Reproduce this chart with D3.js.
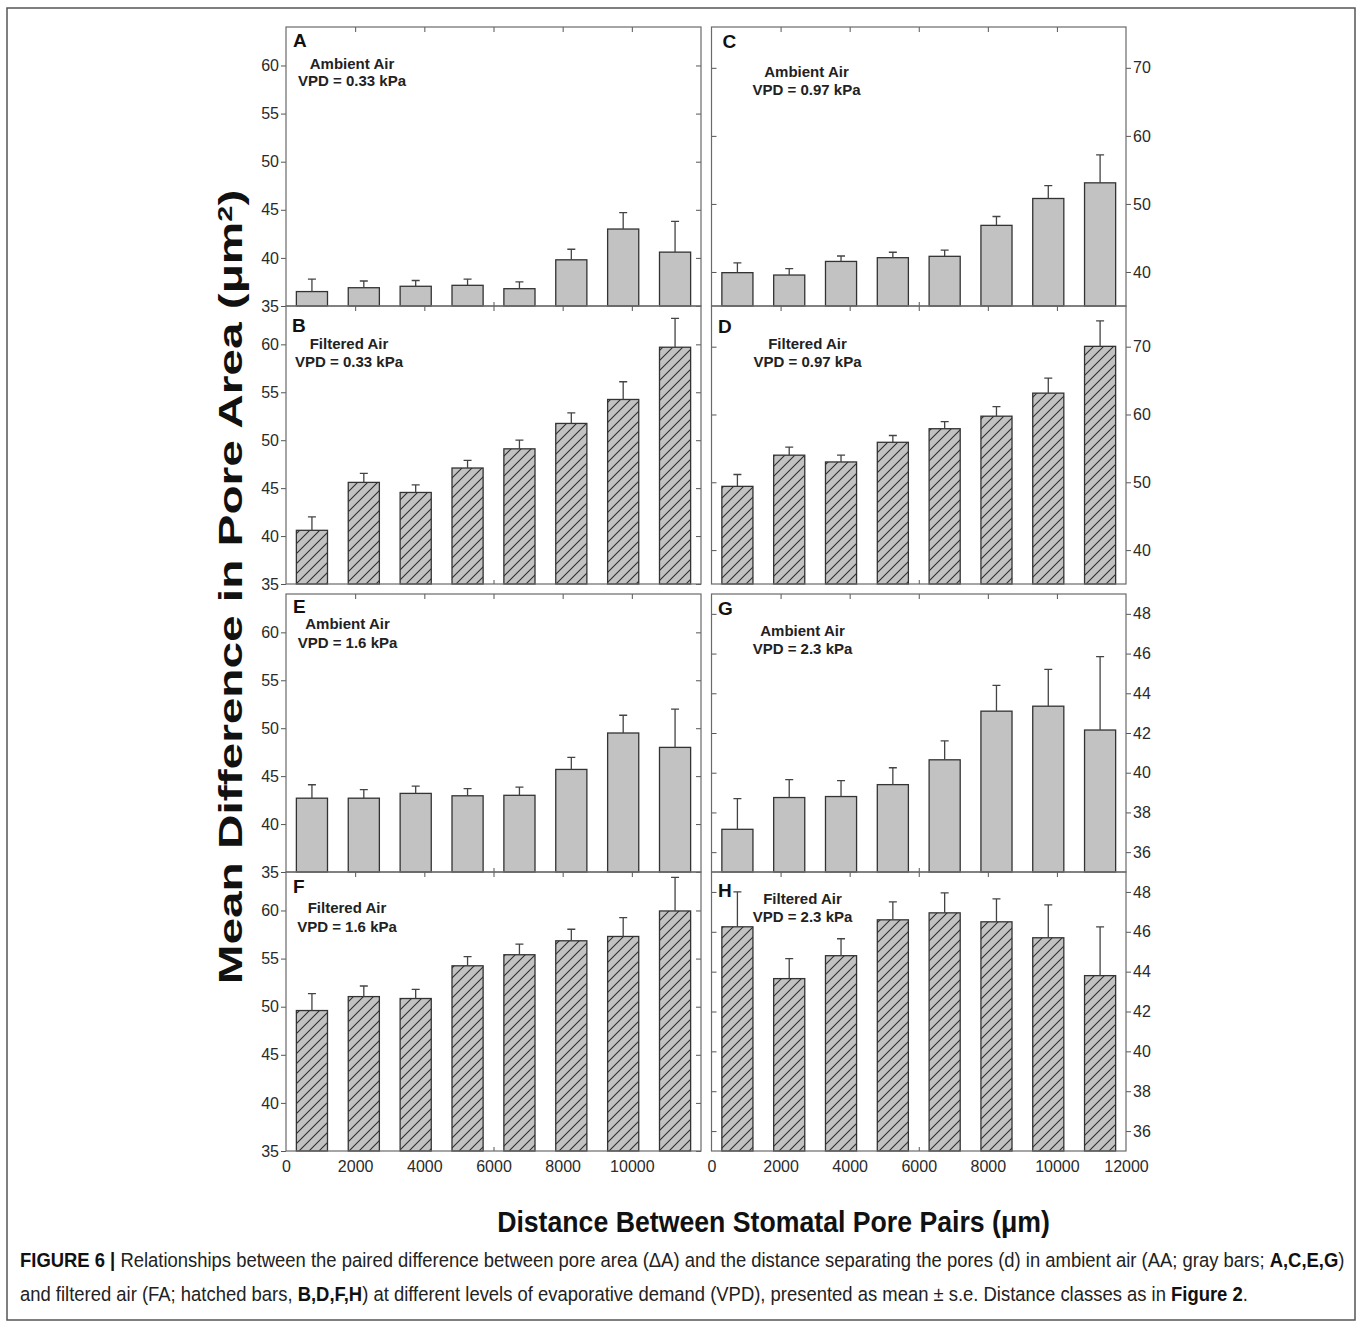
<!DOCTYPE html>
<html>
<head>
<meta charset="utf-8">
<script src="https://cdn.jsdelivr.net/npm/d3@7"></script>
<style>
  body { margin: 0; background: #fff; }
  text { font-family: "Liberation Sans", Arial, sans-serif; }
</style>
</head>
<body>
<svg id="fig" width="1358" height="1323"></svg>
<script>
// distance class centres (um) and tick labels
const distClasses = [750, 2250, 3750, 5250, 6750, 8250, 9750, 11250];
const classWidth = 900;
const xLabelsLeft = [0, 2000, 4000, 6000, 8000, 10000];
const xLabelsRight = [0, 2000, 4000, 6000, 8000, 10000, 12000];
const xInnerTicks = [2000, 4000, 6000, 8000, 10000];

// mean difference in pore area and s.e.
const meanA = [36.5, 36.9, 37.05, 37.15, 36.8, 39.8, 43.0, 40.6];
const seA   = [1.3, 0.7, 0.6, 0.65, 0.7, 1.1, 1.7, 3.2];
const meanB = [40.6, 45.6, 44.55, 47.1, 49.1, 51.75, 54.25, 59.7];
const seB   = [1.4, 0.95, 0.8, 0.8, 0.9, 1.1, 1.85, 3.0];
const meanC = [39.9, 39.55, 41.55, 42.1, 42.3, 46.85, 50.8, 53.1];
const seC   = [1.45, 0.95, 0.8, 0.8, 0.9, 1.3, 1.9, 4.1];
const meanD = [49.4, 54.0, 53.0, 55.9, 57.9, 59.75, 63.15, 70.05];
const seD   = [1.75, 1.2, 1.0, 1.0, 1.05, 1.4, 2.2, 3.75];
const meanE = [42.7, 42.7, 43.2, 42.95, 43.0, 45.7, 49.5, 48.0];
const seE   = [1.4, 0.9, 0.75, 0.75, 0.85, 1.25, 1.85, 4.0];
const meanF = [49.6, 51.05, 50.85, 54.25, 55.4, 56.85, 57.3, 59.95];
const seF   = [1.75, 1.1, 0.95, 0.95, 1.1, 1.2, 1.95, 3.5];
const meanG = [37.15, 38.75, 38.8, 39.4, 40.65, 43.1, 43.35, 42.15];
const seG   = [1.55, 0.9, 0.8, 0.85, 0.95, 1.3, 1.85, 3.7];
const meanH = [46.25, 43.65, 44.8, 46.6, 46.95, 46.5, 45.7, 43.8];
const seH   = [1.75, 1.0, 0.85, 0.9, 1.0, 1.15, 1.65, 2.45];

const panelLetters = ["A", "B", "C", "D", "E", "F", "G", "H"];
const airTypes = ["Ambient Air", "Filtered Air", "Ambient Air", "Filtered Air",
                  "Ambient Air", "Filtered Air", "Ambient Air", "Filtered Air"];
const vpdLabels = ["VPD = 0.33 kPa", "VPD = 0.33 kPa", "VPD = 0.97 kPa", "VPD = 0.97 kPa",
                   "VPD = 1.6 kPa", "VPD = 1.6 kPa", "VPD = 2.3 kPa", "VPD = 2.3 kPa"];
const means = [meanA, meanB, meanC, meanD, meanE, meanF, meanG, meanH];
const ses = [seA, seB, seC, seD, seE, seF, seG, seH];

// y axes: left column, right column top pair, right column bottom pair
const yDomains = [[35, 64], [35, 76], [35, 49]];
const yTicks = [[35, 40, 45, 50, 55, 60], [40, 50, 60, 70], [36, 38, 40, 42, 44, 46, 48]];

/* layout */
const colX = [[286, 701], [711.5, 1126]];
const rowY = [[27, 306], [306, 584], [594, 872], [872, 1151]];
// col, row, y axis, hatched, annotation offsets (letter x/y, text centre, two baselines)
const panels = [
  {col: 0, row: 0, ax: 0, hatch: false, lx: 7, ly: 20, cx: 66, b1: 42, b2: 59},
  {col: 0, row: 1, ax: 0, hatch: true,  lx: 6, ly: 26, cx: 63, b1: 43, b2: 61},
  {col: 1, row: 0, ax: 1, hatch: false, lx: 11, ly: 21, cx: 95, b1: 50, b2: 68},
  {col: 1, row: 1, ax: 1, hatch: true,  lx: 6.5, ly: 27, cx: 96, b1: 43, b2: 61},
  {col: 0, row: 2, ax: 0, hatch: false, lx: 7, ly: 19, cx: 61.5, b1: 35, b2: 54},
  {col: 0, row: 3, ax: 0, hatch: true,  lx: 7, ly: 21, cx: 61, b1: 41, b2: 60},
  {col: 1, row: 2, ax: 2, hatch: false, lx: 6.5, ly: 21, cx: 91, b1: 42, b2: 60},
  {col: 1, row: 3, ax: 2, hatch: true,  lx: 6.5, ly: 25, cx: 91, b1: 32, b2: 50}
];

const svg = d3.select("#fig");
const defs = svg.append("defs");

/* hatch pattern for filtered air bars */
const pat = defs.append("pattern")
  .attr("id", "hatch")
  .attr("patternUnits", "userSpaceOnUse")
  .attr("width", 10).attr("height", 10);
pat.append("rect").attr("width", 10).attr("height", 10).attr("fill", "#c2c2c2");
pat.append("path")
  .attr("d", "M-2.5,2.5L2.5,-2.5M0,10L10,0M7.5,12.5L12.5,7.5")
  .attr("stroke", "#2e2e2e").attr("stroke-width", 1.1);

/* the right hand labels are cut off at the image edge */
defs.append("clipPath").attr("id", "edgeClip")
  .append("rect").attr("x", 0).attr("y", 0).attr("width", 1150).attr("height", 1323);

/* outer figure frame */
svg.append("rect")
  .attr("x", 7).attr("y", 8).attr("width", 1348).attr("height", 1312)
  .attr("fill", "none").attr("stroke", "#555").attr("stroke-width", 1.5);

function styleAxis(g) {
  g.select(".domain").remove();
  g.selectAll(".tick line").attr("stroke", "#555").attr("stroke-width", 1);
  g.selectAll(".tick text")
    .attr("fill", "#2a2a2a")
    .style("font-size", "16px")
    .style("font-family", "'Liberation Sans', Arial, sans-serif");
}

panels.forEach((p, i) => {
  const [x0, x1] = colX[p.col];
  const [y0, y1] = rowY[p.row];
  const x = d3.scaleLinear().domain([0, 12000]).range([x0, x1]);
  const y = d3.scaleLinear().domain(yDomains[p.ax]).range([y1, y0]);
  const g = svg.append("g").attr("class", "panel");

  /* inward ticks along the bottom, mostly hidden behind bars */
  g.append("g")
    .attr("transform", `translate(0,${y1})`)
    .call(d3.axisTop(x).tickValues(xInnerTicks).tickSize(4).tickSizeOuter(0).tickFormat(""))
    .call(styleAxis);

  /* bars */
  const rows = d3.zip(distClasses, means[i], ses[i]);
  g.selectAll(".bar").data(rows).join("rect")
    .attr("class", "bar")
    .attr("x", d => x(d[0] - classWidth / 2))
    .attr("width", x(classWidth) - x(0))
    .attr("y", d => y(d[1]))
    .attr("height", d => y1 - y(d[1]))
    .attr("fill", p.hatch ? "url(#hatch)" : "#c2c2c2")
    .attr("stroke", "#333").attr("stroke-width", 1.3);

  /* upper error bars with caps */
  g.selectAll(".err").data(rows).join("path")
    .attr("class", "err")
    .attr("d", d => {
      const cx = x(d[0]);
      const top = y(d[1] + d[2]);
      return `M${cx},${y(d[1])}V${top}M${cx - 4},${top}H${cx + 4}`;
    })
    .attr("fill", "none").attr("stroke", "#444").attr("stroke-width", 1.3);

  /* top inward ticks */
  g.append("g")
    .attr("transform", `translate(0,${y0})`)
    .call(d3.axisBottom(x).tickValues(xInnerTicks).tickSize(5).tickSizeOuter(0).tickFormat(""))
    .call(styleAxis);

  /* y axes: labelled outside, mirrored ticks inside */
  if (p.col === 0) {
    g.append("g")
      .attr("transform", `translate(${x0},0)`)
      .call(d3.axisLeft(y).tickValues(yTicks[p.ax]).tickSize(5).tickPadding(2).tickSizeOuter(0))
      .call(styleAxis);
    g.append("g")
      .attr("transform", `translate(${x1},0)`)
      .call(d3.axisLeft(y).tickValues(yTicks[p.ax]).tickSize(5).tickSizeOuter(0).tickFormat(""))
      .call(styleAxis);
  } else {
    g.append("g")
      .attr("clip-path", "url(#edgeClip)")
      .attr("transform", `translate(${x1},0)`)
      .call(d3.axisRight(y).tickValues(yTicks[p.ax]).tickSize(5).tickPadding(2).tickSizeOuter(0))
      .call(styleAxis);
    g.append("g")
      .attr("transform", `translate(${x0},0)`)
      .call(d3.axisRight(y).tickValues(yTicks[p.ax]).tickSize(5).tickSizeOuter(0).tickFormat(""))
      .call(styleAxis);
  }

  /* x labels on the bottom row */
  if (p.row === 3) {
    g.append("g")
      .attr("transform", `translate(0,${y1})`)
      .call(d3.axisBottom(x).tickValues(p.col === 0 ? xLabelsLeft : xLabelsRight)
        .tickFormat(d3.format("d")).tickSize(0).tickPadding(10).tickSizeOuter(0))
      .call(styleAxis);
  }

  /* panel frame */
  g.append("rect")
    .attr("x", x0).attr("y", y0).attr("width", x1 - x0).attr("height", y1 - y0)
    .attr("fill", "none").attr("stroke", "#6a6a6a").attr("stroke-width", 1.2);

  /* annotations */
  g.append("text")
    .attr("x", x0 + p.lx).attr("y", y0 + p.ly)
    .style("font-size", "19px").style("font-weight", "bold").attr("fill", "#111")
    .text(panelLetters[i]);
  g.append("text")
    .attr("x", x0 + p.cx).attr("y", y0 + p.b1).attr("text-anchor", "middle")
    .style("font-size", "15px").style("font-weight", "bold").attr("fill", "#222")
    .text(airTypes[i]);
  g.append("text")
    .attr("x", x0 + p.cx).attr("y", y0 + p.b2).attr("text-anchor", "middle")
    .style("font-size", "15px").style("font-weight", "bold").attr("fill", "#222")
    .text(vpdLabels[i]);
});

/* squeeze or stretch a text element along its baseline to a target length */
function fitLength(sel, target) {
  const w = sel.node().getBBox().width;
  return target / w;
}

/* y axis title */
const yTitle = svg.append("text")
  .attr("text-anchor", "middle")
  .style("font-size", "33px").style("font-weight", "bold").attr("fill", "#111");
yTitle.append("tspan").text("Mean Difference in Pore Area (\u03bcm");
yTitle.append("tspan").attr("dy", "-0.5em").style("font-size", "20px").text("2");
yTitle.append("tspan").attr("dy", "0.3em").text(")");
const sy = fitLength(yTitle, 795);
yTitle.attr("transform", `translate(242,587) rotate(-90) scale(${sy},1)`);

/* x axis title */
const xTitle = svg.append("text")
  .attr("text-anchor", "middle")
  .style("font-size", "30px").style("font-weight", "bold").attr("fill", "#111")
  .text("Distance Between Stomatal Pore Pairs (\u03bcm)");
const sx = fitLength(xTitle, 553);
xTitle.attr("transform", `translate(773.5,1232) scale(${sx},1)`);

/* caption */
const cap1 = svg.append("text").style("font-size", "19.5px").attr("fill", "#222");
cap1.append("tspan").style("font-weight", "bold").attr("fill", "#111").text("FIGURE 6 | ");
cap1.append("tspan").text("Relationships between the paired difference between pore area (\u0394A) and the distance separating the pores (d) in ambient air (AA; gray bars; ");
cap1.append("tspan").style("font-weight", "bold").attr("fill", "#111").text("A,C,E,G");
cap1.append("tspan").text(")");
const sc = fitLength(cap1, 1325);
cap1.attr("transform", `translate(20,1267) scale(${sc},1)`);

const cap2 = svg.append("text").style("font-size", "19.5px").attr("fill", "#222");
cap2.append("tspan").text("and filtered air (FA; hatched bars, ");
cap2.append("tspan").style("font-weight", "bold").attr("fill", "#111").text("B,D,F,H");
cap2.append("tspan").text(") at different levels of evaporative demand (VPD), presented as mean \u00b1 s.e. Distance classes as in ");
cap2.append("tspan").style("font-weight", "bold").attr("fill", "#111").text("Figure 2");
cap2.append("tspan").text(".");
cap2.attr("transform", `translate(20,1301) scale(${sc},1)`);
</script>
</body>
</html>
